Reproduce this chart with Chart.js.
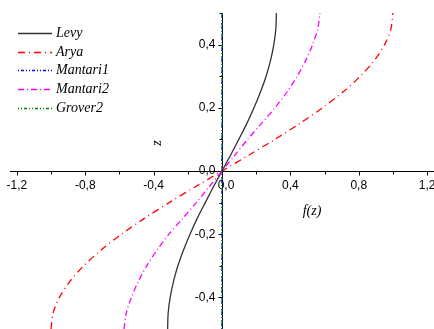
<!DOCTYPE html>
<html>
<head>
<meta charset="utf-8">
<script src="https://cdn.jsdelivr.net/npm/chart.js@4"></script>
<style>
  html, body { margin: 0; padding: 0; background: #fff; }
  #wrap { width: 434px; height: 329px; position: relative; }
</style>
</head>
<body>
<div id="wrap"><canvas id="myChart"></canvas></div>
<script>
const Z_VALUES = [-0.5,-0.45,-0.4,-0.35,-0.3,-0.25,-0.2,-0.15,-0.1,-0.05,0,0.05,0.1,0.15,0.2,0.25,0.3,0.35,0.4,0.45,0.5];
const LEVY     = [-0.318,-0.315,-0.303,-0.284,-0.258,-0.225,-0.187,-0.145,-0.098,-0.05,0,0.05,0.098,0.145,0.187,0.225,0.258,0.284,0.303,0.315,0.318];
const ARYA     = [-1.0,-0.988,-0.951,-0.891,-0.809,-0.707,-0.588,-0.454,-0.309,-0.156,0,0.156,0.309,0.454,0.588,0.707,0.809,0.891,0.951,0.988,1.0];
const MANTARI1 = [0,0,0,0,0,0,0,0,0,0,0,0,0,0,0,0,0,0,0,0,0];
const MANTARI2 = [-0.573,-0.56,-0.53,-0.49,-0.44,-0.38,-0.31,-0.23,-0.15,-0.075,0,0.075,0.15,0.23,0.31,0.38,0.44,0.49,0.53,0.56,0.573];
const GROVER2  = [0,0,0,0,0,0,0,0,0,0,0,0,0,0,0,0,0,0,0,0,0];

const X_TICKS = [-1.2,-0.8,-0.4,0.0,0.4,0.8,1.2];
const Y_TICKS = [-0.4,-0.2,0.0,0.2,0.4];

const SERIES = [
  {name: 'Levy',     data: LEVY,     color: '#333333', dash: []},
  {name: 'Arya',     data: ARYA,     color: '#ff0000', dash: [7,4,1,4]},
  {name: 'Mantari1', data: MANTARI1, color: '#0000ff', dash: [1,2,3,2,1,2]},
  {name: 'Mantari2', data: MANTARI2, color: '#ff00ff', dash: [6,3,1,3]},
  {name: 'Grover2',  data: GROVER2,  color: '#008000', dash: [1,2,1,2,3,2]}
];

const SERIF = 'italic 14px "Times New Roman", "Liberation Serif", "DejaVu Serif", serif';

function fmt(v) {
  return v.toFixed(1).replace('.', ',');
}

// axes crossing at origin, legend and titles
const customAxes = {
  id: 'customAxes',
  beforeDatasetsDraw(chart) {
    const ctx = chart.ctx;
    const xs = chart.scales.x, ys = chart.scales.y;
    const x0 = Math.round(xs.getPixelForValue(0)) + 0.5;
    const y0 = Math.round(ys.getPixelForValue(0)) + 0.5;
    ctx.save();
    ctx.strokeStyle = '#000';
    ctx.lineWidth = 1;
    ctx.beginPath();
    ctx.moveTo(chart.chartArea.left, y0); ctx.lineTo(chart.chartArea.right, y0);
    ctx.moveTo(x0, chart.chartArea.top); ctx.lineTo(x0, chart.chartArea.bottom);
    // x ticks
    for (let v = -1.2; v <= 1.21; v += 0.2) {
      const px = Math.round(xs.getPixelForValue(v)) + 0.5;
      const major = Math.abs(Math.round(v / 0.4) * 0.4 - v) < 1e-6;
      ctx.moveTo(px, y0); ctx.lineTo(px, y0 + (major ? 4 : 3));
    }
    // y ticks
    for (let v = -0.5; v <= 0.51; v += 0.1) {
      const py = Math.round(ys.getPixelForValue(v)) + 0.5;
      const major = Math.abs(Math.round(v / 0.2) * 0.2 - v) < 1e-6;
      ctx.moveTo(x0, py); ctx.lineTo(x0 - (major ? 4 : 3), py);
    }
    ctx.stroke();

    ctx.fillStyle = '#000';
    ctx.font = '12px "Liberation Sans", Arial, sans-serif';
    ctx.textAlign = 'center';
    ctx.textBaseline = 'middle';
    X_TICKS.forEach(v => {
      ctx.fillText(fmt(v), xs.getPixelForValue(v) + (v === 0 ? 4 : 0), y0 + 14);
    });
    ctx.textAlign = 'right';
    Y_TICKS.forEach(v => {
      ctx.fillText(fmt(v), x0 - 7, ys.getPixelForValue(v));
    });

    ctx.font = SERIF;
    ctx.textAlign = 'center';
    ctx.fillText('f(z)', 312, 211);
    ctx.save();
    ctx.translate(157, 143);
    ctx.rotate(-Math.PI / 2);
    ctx.fillText('z', 0, 0);
    ctx.restore();

    // legend
    const rows = [33, 52, 70, 89, 108];
    ctx.textAlign = 'left';
    SERIES.forEach((s, i) => {
      ctx.strokeStyle = s.color;
      ctx.lineWidth = 1.3;
      ctx.setLineDash(s.dash);
      ctx.beginPath();
      ctx.moveTo(18, rows[i] + 0.5); ctx.lineTo(52, rows[i] + 0.5);
      ctx.stroke();
      ctx.setLineDash([]);
      ctx.fillStyle = '#000';
      ctx.fillText(s.name, 56, rows[i]);
    });
    ctx.restore();
  }
};

const ctx = document.getElementById('myChart');

new Chart(ctx, {
  type: 'scatter',
  data: {
    datasets: SERIES.map(s => ({
      label: s.name,
      data: Z_VALUES.map((z, i) => ({x: s.data[i], y: z})),
      showLine: true,
      borderColor: s.color,
      borderWidth: 1.3,
      borderDash: s.dash,
      pointRadius: 0,
      tension: 0.3,
      fill: false
    })).reverse()
  },
  options: {
    responsive: true,
    maintainAspectRatio: false,
    animation: false,
    layout: {padding: {left: 10, right: 0, top: 13, bottom: 0}},
    scales: {
      x: {type: 'linear', min: -1.24, max: 1.24, display: false},
      y: {type: 'linear', min: -0.5, max: 0.5, display: false}
    },
    plugins: {
      legend: {display: false},
      tooltip: {enabled: false}
    }
  },
  plugins: [customAxes]
});
</script>
</body>
</html>
